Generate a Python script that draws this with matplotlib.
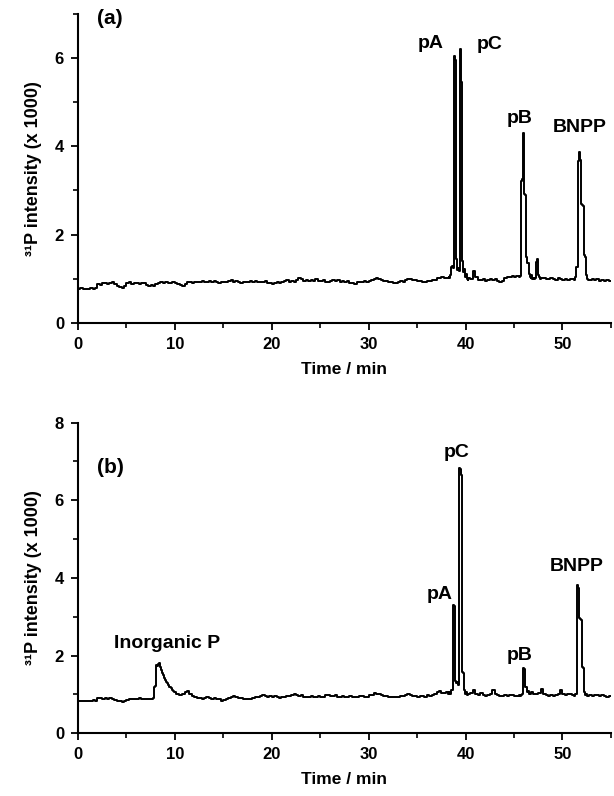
import numpy as np
import matplotlib
matplotlib.use("Agg")
import matplotlib.pyplot as plt
from matplotlib.ticker import MultipleLocator

plt.rcParams["font.family"] = ["Liberation Sans", "DejaVu Sans"]
plt.rcParams["font.weight"] = "bold"

# baseline of trace (a), one value every 0.25 min from 0 to 54.75
base_a = [
    0.78, 0.79, 0.78, 0.77, 0.78, 0.79, 0.78, 0.80, 0.88, 0.87, 0.90, 0.91, 0.89, 0.90, 0.92, 0.88, 0.85, 0.81, 0.80, 0.84,
    0.90, 0.92, 0.89, 0.91, 0.90, 0.88, 0.91, 0.90, 0.87, 0.85, 0.86, 0.84, 0.88, 0.90, 0.92, 0.91, 0.93, 0.90, 0.91, 0.92,
    0.91, 0.88, 0.86, 0.85, 0.88, 0.92, 0.93, 0.91, 0.94, 0.92, 0.93, 0.95, 0.92, 0.94, 0.96, 0.93, 0.95, 0.93, 0.91, 0.92,
    0.94, 0.92, 0.95, 0.97, 0.93, 0.95, 0.92, 0.90, 0.93, 0.94, 0.92, 0.95, 0.93, 0.96, 0.94, 0.92, 0.93, 0.95, 0.91, 0.90,
    0.89, 0.91, 0.93, 0.90, 0.94, 0.95, 0.97, 0.94, 0.96, 0.93, 0.98, 1.02, 0.99, 0.96, 0.98, 0.95, 0.97, 0.96, 0.99, 0.96,
    0.95, 0.97, 0.93, 0.94, 0.96, 0.98, 0.95, 0.97, 0.94, 0.96, 0.93, 0.95, 0.91, 0.90, 0.89, 0.92, 0.94, 0.93, 0.95, 0.93,
    0.96, 0.98, 1.00, 1.02, 0.99, 0.97, 0.95, 0.96, 0.94, 0.92, 0.91, 0.90, 0.93, 0.95, 0.94, 0.97, 0.99, 1.00, 0.97, 0.98,
    0.96, 0.95, 0.94, 0.93, 0.95, 0.96, 0.98, 0.97, 1.03, 1.01, 1.04, 1.02, 1.03, 1.05, 1.06, 1.05, 1.10, 1.05, 1.08, 1.02,
    1.00, 1.02, 0.99, 1.19, 1.05, 0.98, 0.97, 0.99, 0.96, 0.98, 1.00, 0.97, 0.99, 0.95, 0.93, 0.96, 1.02, 1.05, 1.04, 1.06,
    1.04, 1.06, 1.05, 1.05, 1.05, 1.05, 1.05, 1.05, 1.05, 1.05, 1.05, 1.02, 1.03, 1.00, 0.99, 1.02, 1.00, 0.98, 1.01, 0.99,
    0.98, 1.00, 0.97, 0.99, 1.00, 1.00, 1.00, 1.00, 1.00, 1.00, 1.00, 0.98, 1.00, 0.97, 0.99, 0.96, 0.98, 0.95, 0.97, 0.96,
]
# finely sampled peak regions of (a)
win_a = [(38.3, 40.2), (45.5, 47.7), (51.2, 52.6)]
peak_t_a = [
    38.3, 38.4, 38.5, 38.6, 38.7, 38.8, 38.9, 39.0, 39.1, 39.2, 39.3, 39.4, 39.5, 39.6, 39.7, 39.8, 39.9, 40.0, 40.1, 40.2,
    45.5, 45.6, 45.7, 45.8, 45.9, 46.0, 46.1, 46.2, 46.3, 46.4, 46.5, 46.6, 46.7, 46.8, 46.9, 47.0, 47.1, 47.2, 47.3, 47.4,
    47.5, 47.6, 47.7,
    51.2, 51.3, 51.4, 51.5, 51.6, 51.7, 51.8, 51.9, 52.0, 52.1, 52.2, 52.3, 52.4, 52.5, 52.6,
]
peak_v_a = [
    1.02, 1.10, 1.28, 1.30, 1.25, 6.04, 5.95, 1.45, 1.20, 1.25, 1.18, 6.19, 5.45, 1.40, 1.15, 1.22, 1.05, 1.12, 1.00, 0.98,
    1.05, 1.06, 3.22, 3.25, 4.31, 2.93, 2.90, 1.49, 1.35, 1.35, 1.12, 1.05, 1.02, 1.08, 1.00, 1.02, 0.99, 1.02, 1.38, 1.45,
    1.10, 1.05, 1.00,
    0.98, 1.05, 1.26, 1.28, 3.67, 3.86, 3.70, 2.70, 2.68, 2.65, 1.53, 1.50, 1.10, 1.00, 0.98,
]

# baseline of trace (b)
base_b = [
    0.83, 0.82, 0.84, 0.83, 0.82, 0.83, 0.85, 0.84, 0.91, 0.90, 0.88, 0.90, 0.89, 0.91, 0.87, 0.86, 0.84, 0.82, 0.80, 0.83,
    0.86, 0.88, 0.87, 0.89, 0.88, 0.90, 0.87, 0.88, 0.89, 0.87, 0.88, 0.90, 0.88, 0.89, 0.90, 0.90, 0.90, 0.90, 0.90, 0.90,
    1.00, 1.00, 1.00, 1.00, 1.05, 1.08, 1.02, 0.95, 0.92, 0.90, 0.91, 0.89, 0.90, 0.92, 0.90, 0.88, 0.90, 0.89, 0.87, 0.84,
    0.85, 0.88, 0.90, 0.92, 0.96, 0.94, 0.91, 0.90, 0.88, 0.89, 0.87, 0.88, 0.90, 0.92, 0.93, 0.95, 0.98, 0.96, 0.94, 0.95,
    0.93, 0.95, 0.92, 0.91, 0.93, 0.94, 0.96, 0.95, 0.98, 1.00, 0.98, 0.96, 0.97, 0.94, 0.92, 0.93, 0.95, 0.92, 0.93, 0.96,
    0.92, 0.94, 0.97, 0.98, 0.96, 0.95, 0.97, 0.94, 0.93, 0.95, 0.94, 0.93, 0.95, 0.94, 0.92, 0.94, 0.96, 0.95, 0.93, 0.94,
    0.97, 0.99, 1.04, 1.02, 1.00, 0.98, 0.96, 0.95, 0.94, 0.93, 0.92, 0.94, 0.93, 0.96, 0.95, 0.98, 1.00, 0.97, 0.96, 0.95,
    0.94, 0.96, 0.95, 0.94, 0.97, 0.96, 0.99, 1.02, 1.05, 1.09, 1.04, 1.03, 1.06, 1.00, 1.00, 1.00, 1.00, 1.00, 1.00, 1.00,
    1.00, 1.00, 1.03, 1.11, 1.02, 0.99, 1.03, 0.98, 0.96, 0.99, 1.02, 1.11, 1.00, 0.97, 0.96, 0.95, 0.97, 0.96, 0.98, 0.97,
    0.96, 0.95, 0.97, 1.00, 1.00, 1.00, 1.00, 1.05, 1.02, 1.00, 1.03, 1.14, 1.02, 0.98, 0.96, 0.97, 0.95, 0.98, 1.02, 1.10,
    1.00, 0.98, 1.00, 1.02, 0.99, 1.00, 1.00, 1.00, 1.00, 1.00, 1.00, 0.98, 0.96, 0.99, 0.97, 0.95, 0.98, 0.96, 0.94, 0.96,
]
win_b = [(7.6, 10.5), (38.2, 40.3), (45.6, 46.5), (51.2, 52.5)]
peak_t_b = [
    7.6, 7.7, 7.8, 7.9, 8.0, 8.1, 8.2, 8.3, 8.4, 8.5, 8.6, 8.7, 8.8, 8.9, 9.0, 9.1, 9.2, 9.3, 9.4, 9.5,
    9.6, 9.7, 9.8, 9.9, 10.0, 10.1, 10.2, 10.3, 10.4, 10.5,
    38.2, 38.3, 38.4, 38.5, 38.6, 38.7, 38.8, 38.9, 39.0, 39.1, 39.2, 39.3, 39.4, 39.5, 39.6, 39.7, 39.8, 39.9, 40.0, 40.1,
    40.2, 40.3,
    45.6, 45.7, 45.8, 45.9, 46.0, 46.1, 46.2, 46.3, 46.4, 46.5,
    51.2, 51.3, 51.4, 51.5, 51.6, 51.7, 51.8, 51.9, 52.0, 52.1, 52.2, 52.3, 52.4, 52.5,
]
peak_v_b = [
    0.88, 0.90, 1.19, 1.20, 1.22, 1.75, 1.72, 1.78, 1.80, 1.70, 1.62, 1.55, 1.49, 1.42, 1.38, 1.32, 1.30, 1.25, 1.20, 1.18,
    1.15, 1.12, 1.08, 1.06, 1.05, 1.02, 1.02, 1.00, 0.98, 0.99,
    1.02, 1.05, 1.00, 1.10, 1.12, 3.30, 3.28, 1.35, 1.30, 1.32, 1.25, 6.82, 6.80, 6.65, 1.58, 1.55, 1.10, 1.02, 1.05, 0.98,
    1.02, 1.00,
    0.95, 0.98, 1.00, 1.67, 1.65, 1.20, 1.18, 1.05, 1.08, 1.00,
    0.95, 1.00, 1.02, 3.81, 3.75, 2.96, 2.95, 2.92, 1.71, 1.68, 1.05, 0.98, 1.00, 0.96,
]

labels_a = [("pA", 36.4, 6.32), ("pC", 42.5, 6.30), ("pB", 45.6, 4.62), ("BNPP", 51.8, 4.42)]
labels_b = [("Inorganic P", 9.2, 2.32), ("pA", 37.3, 3.58), ("pC", 39.1, 7.22),
            ("pB", 45.6, 2.00), ("BNPP", 51.5, 4.30)]


def build_trace(base, windows, pt, pv):
    t = np.arange(len(base)) * 0.25
    base = np.asarray(base)
    keep = np.ones(len(t), dtype=bool)
    for w0, w1 in windows:
        keep &= ~((t >= w0 - 1e-9) & (t <= w1 + 1e-9))
    tt = np.concatenate([t[keep], pt, [55.0]])
    vv = np.concatenate([base[keep], pv, [base[-1]]])
    order = np.argsort(tt, kind="stable")
    return tt[order], vv[order]


fig = plt.figure(figsize=(6.14, 7.96), dpi=100)
ax_a = fig.add_axes([0.127, 0.594, 0.868, 0.389])
ax_b = fig.add_axes([0.127, 0.079, 0.868, 0.390])

panels = [
    (ax_a, base_a, win_a, peak_t_a, peak_v_a, labels_a, 7, "(a)", 0.985),
    (ax_b, base_b, win_b, peak_t_b, peak_v_b, labels_b, 8, "(b)", 0.855),
]

for ax, base, win, pt, pv, labels, ymax, tag, tag_y in panels:
    t, v = build_trace(base, win, pt, pv)
    ax.plot(t, v, color="black", lw=1.4, drawstyle="steps-post")
    ax.set_xlim(0, 55)
    ax.set_ylim(0, ymax)
    ax.xaxis.set_major_locator(MultipleLocator(10))
    ax.xaxis.set_minor_locator(MultipleLocator(5))
    ax.yaxis.set_major_locator(MultipleLocator(2))
    ax.yaxis.set_minor_locator(MultipleLocator(1))
    for s in ["top", "right"]:
        ax.spines[s].set_visible(False)
    for s in ["left", "bottom"]:
        ax.spines[s].set_linewidth(1.5)
    ax.tick_params(which="major", direction="out", length=5, width=1.3, labelsize=12, pad=5)
    ax.tick_params(which="minor", direction="out", length=3.5, width=1.2)
    for lab in ax.get_xticklabels() + ax.get_yticklabels():
        lab.set_fontweight("bold")
    ax.set_xlabel("Time / min", fontsize=12.5, fontweight="bold", labelpad=7)
    ax.set_ylabel("³¹P intensity (x 1000)", fontsize=13, fontweight="bold", labelpad=9)
    ax.text(0.035, tag_y, tag, transform=ax.transAxes, fontsize=15, fontweight="bold",
            ha="left", va="center")
    for name, x, y in labels:
        ax.text(x, y, name, fontsize=14, fontweight="bold", ha="center", va="center")

fig.savefig("out.png", dpi=100)
